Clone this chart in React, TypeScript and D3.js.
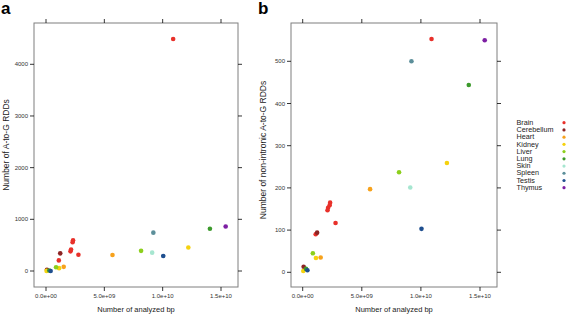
import React from "react";
import * as d3 from "d3";

const tissues = ["Brain", "Cerebellum", "Heart", "Kidney", "Liver", "Lung", "Skin", "Spleen", "Testis", "Thymus"];
const tissueColors = ["#e8302a", "#8c2424", "#f7a21c", "#f5d20f", "#8ccf1c", "#3c9a2c", "#a6e6d0", "#5c8f9a", "#1f4f8f", "#7d1fa3"];

// each sample: tissue, analyzed bp, A-to-G RDDs, non-intronic A-to-G RDDs
const sampleTissue = ["Brain", "Brain", "Brain", "Brain", "Brain", "Brain", "Brain",
  "Cerebellum", "Cerebellum", "Heart", "Heart", "Kidney", "Kidney", "Kidney",
  "Liver", "Liver", "Lung", "Lung", "Skin", "Spleen", "Testis", "Testis", "Thymus"];
const sampleBp = [10.9e9, 2.32e9, 2.28e9, 2.15e9, 2.1e9, 2.78e9, 1.1e9,
  1.22e9, 0.08e9, 5.7e9, 1.52e9, 12.2e9, 1.12e9, 0.05e9,
  8.15e9, 0.86e9, 14.05e9, 0.28e9, 9.1e9, 9.2e9, 10.05e9, 0.4e9, 15.4e9];
const sampleRdd = [4490, 595, 555, 415, 380, 315, 205,
  342, 25, 310, 80, 455, 55, 2,
  390, 72, 818, 10, 355, 742, 290, 0, 860];
const sampleNonIntronic = [553, 165, 159, 153, 147, 117, 90,
  94, 13, 197, 35, 259, 34, 3,
  237, 45, 444, 8, 201, 500, 103, 5, 550];

const xTicks = [0, 5e9, 1e10, 1.5e10];
const xTickLabels = ["0.0e+00", "5.0e+09", "1.0e+10", "1.5e+10"];
const yTicksA = [0, 1000, 2000, 3000, 4000];
const yTicksB = [0, 100, 200, 300, 400, 500];

const FONT = "'Liberation Sans', Arial, sans-serif";

type PanelProps = {
  letter: string;
  box: [number, number, number, number]; // x0, x1, y0, y1
  xRange: [number, number];
  yDomainMax: number;
  yRange: [number, number];
  yTicks: number[];
  values: number[];
  yTitle: string;
  yTitleX: number;
  yTitleY: number;
  letterX: number;
};

function Panel(p: PanelProps) {
  const x = d3.scaleLinear().domain([0, 1.5e10]).range(p.xRange);
  const y = d3.scaleLinear().domain([0, p.yDomainMax]).range(p.yRange);
  const color = d3.scaleOrdinal<string, string>().domain(tissues).range(tissueColors);
  const [bx0, bx1, by0, by1] = p.box;
  const tl = 4;
  const midX = (bx0 + bx1) / 2;
  return (
    <g>
      <text x={p.letterX} y={14} fontFamily={FONT} fontWeight="bold" fontSize={17}>{p.letter}</text>
      <rect x={bx0} y={by0} width={bx1 - bx0} height={by1 - by0} fill="none" stroke="#7f7f7f" strokeWidth={1} />
      {xTicks.map((t, i) => (
        <g key={"x" + i}>
          <line x1={x(t)} x2={x(t)} y1={by1} y2={by1 + tl} stroke="#000" strokeWidth={0.8} />
          <line x1={x(t)} x2={x(t)} y1={by0} y2={by0 - tl} stroke="#000" strokeWidth={0.8} />
          <text x={x(t)} y={by1 + 11} textAnchor="middle" fontFamily={FONT} fontSize={6} fill="#333">{xTickLabels[i]}</text>
        </g>
      ))}
      {p.yTicks.map((t, i) => (
        <g key={"y" + i}>
          <line x1={bx0} x2={bx0 - tl} y1={y(t)} y2={y(t)} stroke="#000" strokeWidth={0.8} />
          <line x1={bx1} x2={bx1 + tl} y1={y(t)} y2={y(t)} stroke="#000" strokeWidth={0.8} />
          <text x={bx0 - tl - 2} y={y(t) + 2} textAnchor="end" fontFamily={FONT} fontSize={6} fill="#333">{t}</text>
        </g>
      ))}
      {sampleBp.map((bp, i) => (
        <circle key={"p" + i} cx={x(bp)} cy={y(p.values[i])} r={2.3} fill={color(sampleTissue[i])} />
      ))}
      <text x={midX} y={by1 + 25} textAnchor="middle" fontFamily={FONT} fontSize={7.5} fill="#222">Number of analyzed bp</text>
      <text transform={`translate(${p.yTitleX},${p.yTitleY}) rotate(-90)`} textAnchor="middle" fontFamily={FONT} fontSize={8.5} fill="#222">{p.yTitle}</text>
    </g>
  );
}

export default function App() {
  const color = d3.scaleOrdinal<string, string>().domain(tissues).range(tissueColors);
  const legendY = d3.scalePoint<string>().domain(tissues).range([122.7, 187.7]);
  return (
    <svg width={567} height={314} style={{ position: "absolute", left: 0, top: 0, background: "#fff" }}>
      <Panel letter="a" letterX={1} box={[34, 238, 23, 287]} xRange={[46, 221]} yDomainMax={4000} yRange={[271, 64.3]}
        yTicks={yTicksA} values={sampleRdd} yTitle="Number of A-to-G RDDs" yTitleX={8.5} yTitleY={145} />
      <Panel letter="b" letterX={258} box={[291, 497, 23, 287]} xRange={[302.7, 480]} yDomainMax={500} yRange={[272.3, 61.3]}
        yTicks={yTicksB} values={sampleNonIntronic} yTitle="Number of non-intronic A-to-G RDDs" yTitleX={266} yTitleY={150} />
      {tissues.map((t) => (
        <g key={t}>
          <text transform={`translate(516.5,${(legendY(t) as number) + 2.2}) scale(1.15,1)`} fontFamily={FONT} fontSize={6.3} fill="#222">{t}</text>
          <circle cx={564} cy={legendY(t) as number} r={1.6} fill={color(t)} />
        </g>
      ))}
    </svg>
  );
}
